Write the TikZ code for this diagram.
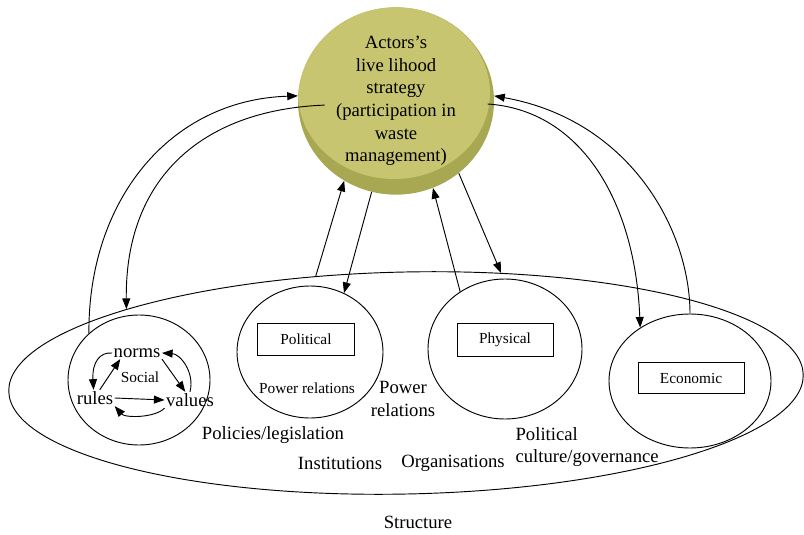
\documentclass[tikz,border=0pt]{standalone}
\usepackage{fontspec}
\setmainfont{Liberation Serif}
\usetikzlibrary{shapes.geometric,arrows.meta,calc}
\definecolor{olivelight}{RGB}{199,197,112}
\definecolor{olivedark}{RGB}{168,167,82}
\tikzset{%
    circ/.style={ellipse,draw,line width=0.7pt,inner sep=0pt},
    lbl/.style={font=\fontsize{14}{17}\selectfont,inner sep=1pt},
    smalllbl/.style={font=\fontsize{11.5}{14}\selectfont,inner sep=1pt},
    boxlbl/.style={draw,line width=0.7pt,font=\fontsize{11.5}{14}\selectfont,inner sep=0pt},
    arr/.style={line width=0.7pt,-{Triangle[length=8pt,width=6pt]}}
}

\begin{document}
\begin{tikzpicture}[x=0.75pt,y=-0.75pt]
        \useasboundingbox (0,0) rectangle (804,535);

        % structure and its parts
        \node[circ,minimum width=596pt,minimum height=166.5pt,rotate=1.2] (structure) at (406,383){};
        \node[circ,minimum width=106.5pt,minimum height=97.5pt] (social) at (139,380){};
        \node[circ,minimum width=109.5pt,minimum height=99pt] (political) at (310,352){};
        \node[circ,minimum width=115.5pt,minimum height=105pt] (physical) at (505,349){};
        \node[circ,minimum width=121.5pt,minimum height=100.5pt] (economic) at (690,381){};

        \node[ellipse,fill=olivedark,minimum width=147pt,minimum height=138pt,inner sep=0pt,
            lbl,align=center,
            path picture={\fill[olivelight] ($(path picture bounding box.center)+(-2,-8)$) ellipse [x radius=96,y radius=86];}]
            (actor) at (396,101){Actors’s\\live lihood\\strategy\\(participation in\\waste\\management)};

        \node[boxlbl,minimum width=73pt,minimum height=24pt] (polbox) at (306,339){Political};
        \node[smalllbl] (polpower) at (307,388){Power relations};
        \node[boxlbl,minimum width=72pt,minimum height=25pt] (physbox) at (505,340){Physical};
        \node[boxlbl,minimum width=79.5pt,minimum height=23pt] (econbox) at (691,378){Economic};

        % social circle
        \node[lbl] (norms) at (137,353){norms};
        \node[smalllbl] (socialtxt) at (140,377){Social};
        \node[lbl] (rules) at (95,398){rules};
        \node[lbl] (values) at (190,400){values};

        \draw[arr] (norms.west) .. controls (100,352) and (92,362) .. (rules.100);
        \draw[arr] (rules.60) -- (norms.200);
        \draw[arr] (values.north) .. controls (195,372) and (180,354) .. (norms.east);
        \draw[arr] (norms.south east) -- (values.120);
        \draw[arr] (rules.east) -- (values.west);
        \draw[arr] (values.south west) .. controls (155,418) and (125,418) .. (rules.south east);

        % links with the strategy
        \draw[arr] (social.137) .. controls (88,200) and (170,100) .. (actor.177);
        \draw[arr,shorten <=-20pt] (actor.183) .. controls (200,110) and (125,180) .. (structure.164);
        \draw[arr] (structure.129) -- (actor.237);
        \draw[arr] (actor.255) -- (political.60);
        \draw[arr] (physical.128) -- (actor.293);
        \draw[arr] (actor.311) -- (structure.48);
        \draw[arr] (economic.north) .. controls (690,230) and (630,120) .. (actor.3);
        \draw[arr,shorten <=-5pt] (actor.358) .. controls (580,110) and (635,200) .. (economic.133);

        \node[lbl,align=center] (powrel) at (403,399){Power\\relations};
        \node[lbl] (policies) at (273,435){Policies/legislation};
        \node[lbl] (institutions) at (340,463){Institutions};
        \node[lbl] (organisations) at (453,463){Organisations};
        \node[lbl,align=left,anchor=west] (polculture) at (514,447){Political\\culture/governance};
        \node[lbl] (structlbl) at (418,522){Structure};
    \end{tikzpicture}
\end{document}
